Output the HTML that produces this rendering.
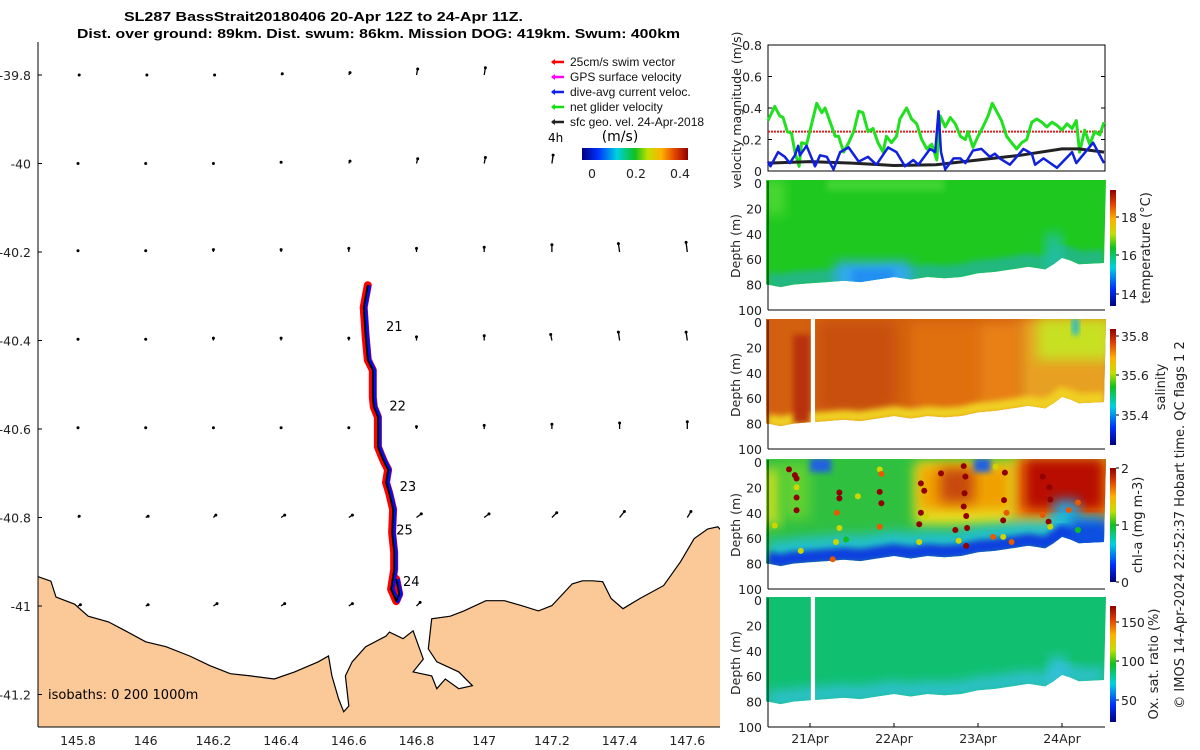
<!DOCTYPE html>
<html><head><meta charset="utf-8"><style>
html,body{margin:0;padding:0;background:#fff;overflow:hidden;width:1200px;height:750px;}
svg{display:block;font-family:"DejaVu Sans","Liberation Sans",sans-serif;}
</style></head><body>
<svg id="fig" width="1200" height="750" viewBox="0 0 1200 750" xmlns="http://www.w3.org/2000/svg">
<defs>
  <linearGradient id="jet" x1="0" y1="1" x2="0" y2="0">
    <stop offset="0" stop-color="#000080"/><stop offset="0.15" stop-color="#0030ff"/>
    <stop offset="0.33" stop-color="#00d0e0"/><stop offset="0.5" stop-color="#10c020"/>
    <stop offset="0.62" stop-color="#c0e000"/><stop offset="0.75" stop-color="#ffb000"/>
    <stop offset="0.88" stop-color="#e04000"/><stop offset="1" stop-color="#900000"/>
  </linearGradient>
  <linearGradient id="jetH" x1="0" y1="0" x2="1" y2="0">
    <stop offset="0" stop-color="#000080"/><stop offset="0.15" stop-color="#0030ff"/>
    <stop offset="0.33" stop-color="#00d0e0"/><stop offset="0.5" stop-color="#10c020"/>
    <stop offset="0.62" stop-color="#c0e000"/><stop offset="0.75" stop-color="#ffb000"/>
    <stop offset="0.88" stop-color="#e04000"/><stop offset="1" stop-color="#900000"/>
  </linearGradient>
  <filter id="blur3" x="-30%" y="-30%" width="160%" height="160%"><feGaussianBlur stdDeviation="3"/></filter>
  <filter id="blur5" x="-30%" y="-30%" width="160%" height="160%"><feGaussianBlur stdDeviation="6"/></filter>
  <clipPath id="mapclip"><rect x="38" y="42" width="682" height="685"/></clipPath>
</defs>

<g font-family="'Liberation Sans',sans-serif" font-weight="bold" font-size="13" text-anchor="start">
  <text x="124" y="21" textLength="399" lengthAdjust="spacingAndGlyphs">SL287 BassStrait20180406 20-Apr 12Z to 24-Apr 11Z.</text>
  <text x="77" y="38" textLength="603" lengthAdjust="spacingAndGlyphs">Dist. over ground: 89km. Dist. swum: 86km. Mission DOG: 419km. Swum: 400km</text>
</g>

<g id="map"></g>
<g id="vel"></g>
<g id="sections"></g>

<text transform="translate(1184,525) rotate(-90)" text-anchor="middle" font-size="13" fill="#222">© IMOS 14-Apr-2024 22:52:37 Hobart time. QC flags 1  2</text>
</svg>

<script>
// ---------- velocity data ----------
const greenDays = [20.50,20.58,20.64,20.68,20.73,20.78,20.82,20.87,20.90,20.96,21.02,21.08,21.14,21.18,21.24,21.30,21.34,21.40,21.46,21.52,21.58,21.63,21.69,21.75,21.81,21.87,21.91,21.97,22.03,22.07,22.15,22.21,22.27,22.33,22.39,22.45,22.51,22.55,22.61,22.67,22.73,22.79,22.85,22.88,22.94,23.00,23.06,23.12,23.17,23.22,23.28,23.34,23.40,23.46,23.52,23.58,23.64,23.70,23.76,23.82,23.88,23.94,24.00,24.06,24.12,24.17,24.21,24.27,24.33,24.39,24.45,24.50];
const greenVals = [0.32,0.41,0.35,0.34,0.25,0.24,0.12,0.03,0.18,0.17,0.30,0.43,0.37,0.40,0.31,0.22,0.22,0.12,0.18,0.25,0.38,0.37,0.25,0.27,0.18,0.12,0.22,0.18,0.22,0.33,0.40,0.33,0.30,0.20,0.14,0.17,0.07,0.35,0.28,0.34,0.30,0.22,0.20,0.25,0.15,0.22,0.28,0.35,0.43,0.38,0.32,0.22,0.18,0.14,0.18,0.20,0.31,0.33,0.31,0.28,0.31,0.29,0.26,0.30,0.27,0.32,0.12,0.26,0.17,0.25,0.23,0.31];
const blueDays = [20.50,20.53,20.62,20.70,20.76,20.82,20.86,20.88,20.96,21.06,21.12,21.20,21.28,21.36,21.46,21.58,21.69,21.79,21.93,22.03,22.13,22.23,22.29,22.43,22.49,22.53,22.56,22.61,22.71,22.79,22.85,22.94,23.04,23.14,23.20,23.26,23.38,23.54,23.64,23.68,23.78,23.94,24.12,24.17,24.37,24.50];
const blueVals = [0.06,0.03,0.12,0.09,0.05,0.10,0.16,0.10,0.16,0.03,0.10,0.09,0.01,0.12,0.15,0.06,0.09,0.04,0.15,0.12,0.03,0.07,0.04,0.14,0.12,0.38,0.12,0.01,0.08,0.08,0.05,0.13,0.14,0.09,0.11,0.08,0.04,0.14,0.11,0.04,0.08,0.02,0.12,0.05,0.18,0.05];
const geoDays = [20.5,21.0,21.5,22.0,22.5,23.0,23.5,24.0,24.2,24.5];
const geoVals = [0.05,0.06,0.05,0.035,0.04,0.07,0.10,0.14,0.14,0.12];
const swimDays = [20.5,24.5];
const swimVals = [0.25,0.25];
const velTicks = [0,0.2,0.4,0.6,0.8];
const dayTicks = [21,22,23,24];
const dayTickLabels = ["21Apr","22Apr","23Apr","24Apr"];

// ---------- section data ----------
const bottomDays = [20.5,20.65,20.8,21.0,21.2,21.4,21.6,21.8,22.0,22.2,22.4,22.6,22.8,23.0,23.2,23.4,23.6,23.8,23.9,24.0,24.1,24.2,24.5];
const bottomDepth = [80,82,80,79,78,77,78,76,74,76,74,75,74,71,70,68,66,68,64,59,61,64,63];
const depthTicks = [0,20,40,60,80,100];
const chlDotDays = [20.75,20.82,20.84,20.84,20.84,20.84,20.89,20.58,21.27,21.32,21.35,21.35,21.35,21.31,21.43,21.57,21.83,21.83,21.85,21.83,21.85,22.32,22.36,22.32,22.30,22.30,22.56,22.83,22.85,22.84,22.83,22.86,22.87,22.86,22.73,22.77,22.38,23.21,23.32,23.31,23.30,23.30,23.40,23.18,23.34,23.77,23.85,23.86,23.84,23.86,23.77,24.08,24.19,24.19];
const chlDotDepth = [5.8,10.3,13,28,38,20,70,50,76.6,40,24,28.6,52,63,61,27,5.8,23.5,32.5,51,9.4,16.8,22.6,40,49,63,9,3.2,11.5,24.6,35,42.5,52,66,53.5,62,42.5,3.7,8.4,30,46,59,63,59,40,11.5,20,29.5,47,51,41.6,37.8,32,53.5];
const chlDotVals = [2,2,2,2,2,1.3,1.3,1.3,1.7,1.7,2,2,1.3,1.3,1.0,1.3,1.3,2,2,1.7,1.7,2,2,2,2,1.3,2,2,2,2,2,2,2,2,2,1.3,1.3,1.3,2,2,2,1.3,1.7,1.7,1.7,2,2,2,2,1.3,1.7,1.7,1.7,1.0];

// ---------- map data ----------
const coastPts = [[145.68,-40.933],[145.72,-40.944],[145.735,-40.98],[145.79,-40.996],[145.83,-41.023],[145.89,-41.036],[145.94,-41.056],[146.00,-41.081],[146.06,-41.092],[146.13,-41.113],[146.19,-41.135],[146.25,-41.153],[146.31,-41.158],[146.38,-41.165],[146.44,-41.149],[146.51,-41.126],[146.54,-41.113],[146.55,-41.158],[146.57,-41.210],[146.585,-41.239],[146.60,-41.226],[146.59,-41.158],[146.61,-41.126],[146.65,-41.092],[146.71,-41.068],[146.72,-41.059],[146.76,-41.074],[146.79,-41.056],[146.82,-41.120],[146.79,-41.149],[146.845,-41.158],[146.86,-41.187],[146.885,-41.165],[146.925,-41.187],[146.965,-41.180],[146.925,-41.149],[146.86,-41.126],[146.835,-41.097],[146.845,-41.029],[146.90,-41.023],[146.94,-41.011],[147.005,-40.988],[147.06,-40.988],[147.11,-40.999],[147.16,-41.011],[147.20,-40.999],[147.26,-40.950],[147.29,-40.943],[147.32,-40.943],[147.35,-40.945],[147.375,-40.983],[147.41,-41.006],[147.46,-40.983],[147.53,-40.954],[147.58,-40.900],[147.62,-40.848],[147.66,-40.826],[147.69,-40.821],[147.705,-40.833],[147.72,-40.838],[147.72,-41.3],[145.68,-41.3],[145.68,-40.933]];
const trackLon = [146.656,146.644,146.65,146.656,146.671,146.671,146.674,146.686,146.686,146.695,146.704,146.716,146.71,146.719,146.731,146.728,146.734,146.734,146.725,146.74,146.749,146.74];
const trackLat = [-40.275,-40.325,-40.392,-40.444,-40.467,-40.528,-40.550,-40.573,-40.640,-40.658,-40.674,-40.692,-40.721,-40.744,-40.782,-40.834,-40.879,-40.917,-40.962,-40.989,-40.973,-40.939];
const dayLabelLon = [146.71,146.72,146.75,146.74,146.76];
const dayLabelLat = [-40.378,-40.558,-40.740,-40.838,-40.955];
const dayLabelText = ["21","22","23","25","24"];
const arrowLon = [145.8,146.0,146.2,146.4,146.6,146.8,147.0, 145.8,146.0,146.2,146.4,146.6,146.8,147.0,147.2, 145.8,146.0,146.2,146.4,146.6,146.8,147.0,147.2,147.4,147.6, 145.8,146.0,146.2,146.4,146.6,146.8,147.0,147.2,147.4,147.6, 145.8,146.0,146.2,146.4,146.6,146.8,147.0,147.2,147.4,147.6, 145.8,146.0,146.2,146.4,146.6,146.8,147.0,147.2,147.4,147.6, 145.8,146.0,146.2,146.4,146.6,146.8];
const arrowLat = [-39.8,-39.8,-39.8,-39.8,-39.8,-39.8,-39.8, -40,-40,-40,-40,-40,-40,-40,-40, -40.2,-40.2,-40.2,-40.2,-40.2,-40.2,-40.2,-40.2,-40.2,-40.2, -40.4,-40.4,-40.4,-40.4,-40.4,-40.4,-40.4,-40.4,-40.4,-40.4, -40.6,-40.6,-40.6,-40.6,-40.6,-40.6,-40.6,-40.6,-40.6,-40.6, -40.8,-40.8,-40.8,-40.8,-40.8,-40.8,-40.8,-40.8,-40.8,-40.8, -41,-41,-41,-41,-41,-41];
const arrowU = [0.01,0.01,0.01,0.01,0.01,0.01,0.01, 0,0,0,0,0.01,0.01,0.01,0.01, 0,0,0,0,0,0,0,0,-0.01,-0.01, 0,0,0,0,0,0,0,-0.01,-0.01,-0.01, 0,0,0,0,0,0,0,0,0,0, 0.01,0.02,0.02,0.03,0.03,0.04,0.04,0.04,0.04,0.03, 0.02,0.02,0.03,0.03,0.03,0.03];
const arrowV = [0,0,0,0.01,0.02,0.05,0.06, 0,0,0,0.01,0.02,0.04,0.05,0.07, 0.01,0.01,0.02,0.02,0.03,0.03,0.04,0.06,0.07,0.08, 0.01,0.01,0.02,0.02,0.02,0.03,0.04,0.05,0.07,0.07, 0.01,0.01,0.01,0.01,0.01,0.02,0.03,0.04,0.05,0.06, 0.01,0.01,0.02,0.02,0.02,0.03,0.03,0.04,0.05,0.05, 0.01,0.01,0.02,0.02,0.02,0.03];
const lonTicks = [145.8,146,146.2,146.4,146.6,146.8,147,147.2,147.4,147.6];
const latTicks = [-39.8,-40,-40.2,-40.4,-40.6,-40.8,-41,-41.2];

const NS = "http://www.w3.org/2000/svg";
function mk(tag, attrs, parent){ const e=document.createElementNS(NS,tag); for(const k in attrs) e.setAttribute(k,attrs[k]); if(parent) parent.appendChild(e); return e; }

const cmStops=[[0,[0,0,128]],[0.15,[0,48,255]],[0.33,[0,208,224]],[0.5,[16,192,32]],[0.62,[192,224,0]],[0.75,[255,176,0]],[0.88,[224,64,0]],[1,[144,0,0]]];
function cmap(t){ t=Math.max(0,Math.min(1,t)); for(let i=1;i<cmStops.length;i++){ if(t<=cmStops[i][0]){ const a=cmStops[i-1],b=cmStops[i]; const f=(t-a[0])/(b[0]-a[0]); const c=a[1].map((v,j)=>Math.round(v+(b[1][j]-v)*f)); return `rgb(${c})`; } } return "rgb(144,0,0)"; }

// ---------- MAP ----------
const map=document.getElementById('map');
const lx = lon => 78 + (lon-145.8)/0.2*67.7;
const ly = lat => 75 + (-39.8-lat)/0.2*88.5;
const mapInner = mk('g',{'clip-path':'url(#mapclip)'},map);
const land = mk('path',{d:'M'+coastPts.map(p=>lx(p[0]).toFixed(1)+','+ly(p[1]).toFixed(1)).join('L')+'Z',fill:'#fbc997',stroke:'#000','stroke-width':1.2},mapInner);


for(let i=0;i<arrowLon.length;i++){
  const x=lx(arrowLon[i]), y=ly(arrowLat[i]);
  const dx=arrowU[i]*120, dy=-arrowV[i]*120;
  const g=mk('g',{},mapInner);
  
  
  mk('line',{x1:x,y1:y,x2:x+dx,y2:y+dy,stroke:'#000','stroke-width':1.3},g);
  mk('circle',{cx:x+dx,cy:y+dy,r:1.5,fill:'#000'},g);
}
const tpts = trackLon.map((v,i)=>lx(v).toFixed(1)+','+ly(trackLat[i]).toFixed(1)).join(' ');
const tr1=mk('polyline',{points:tpts,fill:'none',stroke:'#f00','stroke-width':8,'stroke-linejoin':'round','stroke-linecap':'round'},mapInner);


const tr2=mk('polyline',{points:tpts,fill:'none',stroke:'#0010f0','stroke-width':4,'stroke-linejoin':'round',transform:'translate(1.5,0)'},mapInner);


const tr3=mk('polyline',{points:tpts,fill:'none',stroke:'#000','stroke-width':1.8,'stroke-linejoin':'round'},mapInner);


for(let i=0;i<dayLabelText.length;i++){
  const t=mk('text',{x:lx(dayLabelLon[i]),y:ly(dayLabelLat[i]),'font-size':13,fill:'#000'},mapInner);
  t.textContent=dayLabelText[i];
  
  
}
const iso=mk('text',{x:48,y:699,'font-size':13,fill:'#000'},map);
iso.textContent='isobaths: 0   200  1000m';


mk('line',{x1:38,y1:42,x2:38,y2:727,stroke:'#000','stroke-width':1},map);
mk('line',{x1:38,y1:727,x2:720,y2:727,stroke:'#000','stroke-width':1},map);
lonTicks.forEach(v=>{ const t=mk('text',{x:lx(v),y:745,'text-anchor':'middle','font-size':12.5,fill:'#222'},map); t.textContent=String(v);   });
latTicks.forEach(v=>{ mk('line',{x1:38,y1:ly(v),x2:42,y2:ly(v),stroke:'#000'},map); const t=mk('text',{x:31,y:ly(v)+5,'text-anchor':'end','font-size':12.5,fill:'#222'},map); t.textContent=String(v);   });

const leg=mk('g',{'font-size':12,'font-family':"'Liberation Sans',sans-serif",fill:'#111'},map);


const legItems=[['25cm/s swim vector','#f00'],['GPS surface velocity','#f0f'],['dive-avg current veloc.','#1020f0'],['net glider velocity','#10e010'],['sfc geo. vel. 24-Apr-2018','#222']];
legItems.forEach((it,i)=>{ const y=66+i*15; const g=mk('g',{},leg);   mk('line',{x1:552,y1:y-4,x2:564,y2:y-4,stroke:it[1],'stroke-width':2.5},g); mk('path',{d:`M551,${y-4} l4,-3 l0,6 z`,fill:it[1]},g); const t=mk('text',{x:570,y:y},g); t.textContent=it[0]; });
const t4=mk('text',{x:548,y:142,'font-size':12},map); t4.textContent='4h';
const tms=mk('text',{x:620,y:141,'font-size':14,'text-anchor':'middle'},map); tms.textContent='(m/s)';
const cbm=mk('rect',{x:582,y:148,width:106,height:12,fill:'url(#jetH)'},map);


[['0',592],['0.2',636],['0.4',680]].forEach(a=>{ const t=mk('text',{x:a[1],y:178,'text-anchor':'middle','font-size':12.5,fill:'#222'},map); t.textContent=a[0]; });

// ---------- VELOCITY CHART ----------
const vel=document.getElementById('vel');
const X0=768, X1=1105;
const dx = d => X0 + (d-20.5)*84;
const vy = v => 171 - v/0.8*126;
mk('rect',{x:X0,y:45,width:X1-X0,height:126,fill:'none',stroke:'#000','stroke-width':1},vel);
velTicks.forEach(v=>{ mk('line',{x1:X0,y1:vy(v),x2:X0+4,y2:vy(v),stroke:'#000'},vel); mk('line',{x1:X1,y1:vy(v),x2:X1-4,y2:vy(v),stroke:'#000'},vel); const t=mk('text',{x:762,y:vy(v)+5,'text-anchor':'end','font-size':12.5,fill:'#222'},vel); t.textContent=String(v);   });
const vl=mk('text',{transform:'translate(741,110) rotate(-90)','text-anchor':'middle','font-size':12.5,fill:'#222'},vel); vl.textContent='velocity magnitude (m/s)';
 
function line(days,vals,color,w,name,extra){ const p=mk('polyline',Object.assign({points:days.map((d,i)=>dx(d).toFixed(1)+','+vy(vals[i]).toFixed(1)).join(' '),fill:'none',stroke:color,'stroke-width':w,'stroke-linejoin':'round'},extra||{}),vel);   }
line(swimDays,swimVals,'#e02020',2,'swim-speed-line',{'stroke-dasharray':'2,1'});
line(greenDays,greenVals,'#20e020',3,'net-glider-velocity-line');
line(geoDays,geoVals,'#222',3,'sfc-geo-velocity-line');
line(blueDays,blueVals,'#1020e0',2.5,'dive-avg-current-line');

// ---------- SECTIONS ----------
const sec=document.getElementById('sections');
const panels=[
 {name:'temperature-panel',top:183,cbTicks:[['18',217],['16',255],['14',294]],cb:[190,306],label:'temperature (°C)',lx:1150,gap:false},
 {name:'salinity-panel',top:322,cbTicks:[['35.8',336],['35.6',375],['35.4',415]],cb:[329,445],label:'salinity',lx:1165,gap:true},
 {name:'chl-panel',top:462,cbTicks:[['2',468],['1',525],['0',582]],cb:[468,582],label:'chl-a (mg m-3)',lx:1142,gap:false},
 {name:'oxygen-panel',top:600,cbTicks:[['150',622],['100',661],['50',700]],cb:[606,722],label:'Ox. sat. ratio (%)',lx:1158,gap:true}
];
panels.forEach((P,pi)=>{
  const g=mk('g',{},sec);
  
  
  const dy = d => P.top + d/100*127;
  const cid='clip'+pi;
  const cp=mk('clipPath',{id:cid},g);
  let d='M'+(X0-2)+','+(P.top-3)+' L'+(X1+1)+','+(P.top-3);
  for(let i=bottomDays.length-1;i>=0;i--) d+=' L'+dx(bottomDays[i]).toFixed(1)+','+dy(bottomDepth[i]).toFixed(1);
  d+=' L'+(X0-2)+','+dy(bottomDepth[0]).toFixed(1)+'Z';
  mk('path',{d:d},cp);
  const L=mk('g',{'clip-path':`url(#${cid})`},g);
  const R=(d0,d1,z0,z1,fill,f)=>mk('rect',{x:dx(d0),y:dy(z0),width:dx(d1)-dx(d0),height:dy(z1)-dy(z0),fill:fill,filter:f?`url(#${f})`:''},L);
  const bandPts=(off)=>bottomDays.map((b,i)=>dx(b).toFixed(1)+','+dy(bottomDepth[i]-off).toFixed(1)).join(' ');
  const band=(off,w,col,f)=>mk('polyline',{points:bandPts(off),fill:'none',stroke:col,'stroke-width':w,filter:f?`url(#${f})`:''},L);
  if(pi===0){
    R(20.4,24.6,-3,90,'#1ec81e');
    R(20.45,20.7,-3,25,'#4ad830','blur5');
    R(21.2,22.6,-3,6,'#40d430','blur3');
    band(4,16,'#20b880','blur3');
    R(21.3,22.2,62,85,'#30a8f0','blur5');
    R(21.5,22.0,68,85,'#2090f0','blur3');
    R(23.8,24.0,40,70,'#20c0a0','blur5');
  } else if(pi===1){
    R(20.4,24.6,-3,90,'#d2600e');
    R(21.1,22.0,0,70,'#c8500c','blur5');
    R(22.2,23.0,0,70,'#e07010','blur5');
    R(23.0,23.5,0,70,'#e88018','blur5');
    R(23.5,24.6,-3,75,'#e8a020','blur5');
    R(23.7,24.6,-3,30,'#c8e020','blur5');
    R(24.12,24.2,-3,10,'#20b8d0','blur3');
    band(3,12,'#f0d020','blur3');
    R(20.8,21.0,10,80,'#b83008','blur3');
  } else if(pi===2){
    R(20.4,24.6,-3,90,'#30c040');
    R(20.45,20.65,5,50,'#c8e020','blur5');
    R(20.65,21.0,0,45,'#60d030','blur5');
    R(21.0,21.25,-3,8,'#2060e0','blur3');
    R(22.25,23.45,0,50,'#e8e020','blur5');
    R(22.3,23.4,3,38,'#f0a000','blur5');
    R(22.55,22.95,5,32,'#c84810','blur5');
    R(22.95,23.15,-3,8,'#2060e0','blur3');
    R(23.4,24.6,-3,55,'#e8d020','blur5');
    R(23.45,24.6,-3,45,'#f08000','blur5');
    R(23.55,24.5,-3,38,'#b80800','blur5');
    R(23.9,24.2,30,60,'#20a0e0','blur5');
    band(12,20,'#20c0d0','blur5');
    band(4,14,'#1040e0','blur3');
    R(24.1,24.6,45,70,'#1050e0','blur5');
  } else {
    R(20.4,24.6,-3,90,'#10c070');
    band(4,14,'#30c0d8','blur5');
    R(23.85,24.05,45,70,'#30c0d8','blur5');
  }
  if(P.gap) mk('rect',{x:dx(21.01),y:P.top-5,width:dx(21.06)-dx(21.01),height:115,fill:'#fff'},g);
  if(pi===2){
    for(let i=0;i<chlDotDays.length;i++){
      const c=mk('circle',{cx:dx(chlDotDays[i]),cy:dy(chlDotDepth[i]),r:3,fill:cmap(chlDotVals[i]/2)},g);
      
      
    }
  }
  mk('line',{x1:X0,y1:P.top-2,x2:X0,y2:dy(100),stroke:'#000'},g);
  mk('line',{x1:X0,y1:dy(100),x2:X1,y2:dy(100),stroke:'#000'},g);
  depthTicks.forEach(v=>{ const t=mk('text',{x:762,y:dy(v)+5,'text-anchor':'end','font-size':12.5,fill:'#222'},g); t.textContent=String(v);   });
  const yl=mk('text',{transform:`translate(740,${P.top+63}) rotate(-90)`,'text-anchor':'middle','font-size':12.5,fill:'#222'},g); yl.textContent='Depth (m)';
   
  if(pi===3){
    dayTicks.forEach((d,i)=>{ mk('line',{x1:dx(d),y1:dy(100),x2:dx(d),y2:dy(100)-4,stroke:'#000'},g); const t=mk('text',{x:dx(d),y:743,'text-anchor':'middle','font-size':12.5,fill:'#222'},g); t.textContent=dayTickLabels[i];   });
  }
  const cb=mk('rect',{x:1110,y:P.cb[0],width:6,height:P.cb[1]-P.cb[0],fill:'url(#jet)'},g);
  
  
  P.cbTicks.forEach(a=>{ mk('line',{x1:1116,y1:a[1],x2:1119,y2:a[1],stroke:'#000'},g); const t=mk('text',{x:1121,y:a[1]+5,'font-size':12.5,fill:'#222'},g); t.textContent=a[0]; });
  const cl=mk('text',{transform:`translate(${P.lx},${(P.cb[0]+P.cb[1])/2}) rotate(-90)`,'text-anchor':'middle','font-size':13,fill:'#222'},g); cl.textContent=P.label;
   
});
</script>
</body></html>
